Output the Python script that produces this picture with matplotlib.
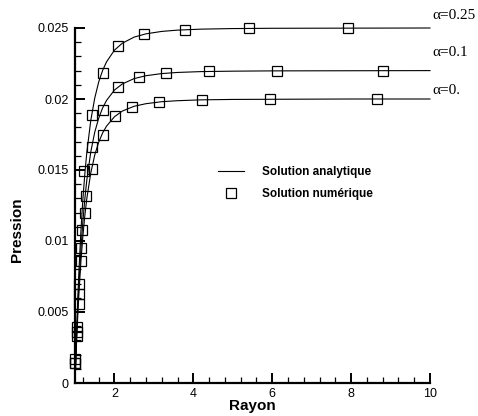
"""
Pression vs Rayon: analytic curves (lines) and numerical solution (open squares)
for three values of alpha.
"""

import matplotlib
matplotlib.use("Agg")
import matplotlib.pyplot as plt
from matplotlib.ticker import MultipleLocator

# Analytic solution
r_line = [1.0, 1.025, 1.05, 1.075, 1.1, 1.15, 1.2, 1.25, 1.3, 1.4, 1.5, 1.6, 1.7,
          1.8, 2.0, 2.2, 2.5, 2.8, 3.2, 3.6, 4.2, 5.0, 6.0, 8.0, 10.0]
p_line_a0 = [0, 0.00188, 0.00355, 0.00502, 0.00634, 0.00856, 0.01035, 0.01181, 0.01300,
             0.01479, 0.01605, 0.01695, 0.01761, 0.01809, 0.01875, 0.01915, 0.01949,
             0.01967, 0.01981, 0.01988, 0.01994, 0.01997, 0.01998, 0.02000, 0.02000]
p_line_a01 = [0, 0.00207, 0.00390, 0.00553, 0.00697, 0.00942, 0.01139, 0.01299, 0.01430,
              0.01627, 0.01766, 0.01864, 0.01937, 0.01990, 0.02063, 0.02106, 0.02144,
              0.02164, 0.02179, 0.02187, 0.02193, 0.02196, 0.02198, 0.02199, 0.02200]
p_line_a025 = [0, 0.00235, 0.00443, 0.00628, 0.00793, 0.01071, 0.01294, 0.01476, 0.01625,
               0.01849, 0.02006, 0.02119, 0.02201, 0.02262, 0.02344, 0.02393, 0.02436,
               0.02459, 0.02476, 0.02485, 0.02492, 0.02496, 0.02498, 0.02499, 0.02500]

# Numerical solution (markers)
r_num_a0 = [1.01, 1.05, 1.09, 1.16, 1.26, 1.44, 1.70, 2.02, 2.45, 3.14, 4.22, 5.95, 8.65]
p_num_a0 = [0.00141, 0.00329, 0.00559, 0.00859, 0.01197, 0.0151, 0.01749, 0.01878,
            0.01944, 0.01979, 0.01996, 0.0200, 0.0200]
r_num_a01 = [1.01, 1.05, 1.11, 1.16, 1.27, 1.44, 1.70, 2.09, 2.63, 3.31, 4.39, 6.12, 8.82]
p_num_a01 = [0.00141, 0.00359, 0.00625, 0.00953, 0.01315, 0.0166, 0.01925, 0.02082,
             0.02153, 0.02183, 0.02195, 0.0220, 0.0220]
r_num_a025 = [1.01, 1.05, 1.09, 1.17, 1.22, 1.44, 1.70, 2.10, 2.75, 3.78, 5.41, 7.93]
p_num_a025 = [0.00172, 0.00394, 0.00695, 0.01075, 0.01493, 0.01885, 0.02186, 0.02371,
              0.02458, 0.02489, 0.0250, 0.0250]

labels = ["\u03b1=0.25", "\u03b1=0.1", "\u03b1=0."]
label_y = [0.02588, 0.02325, 0.02057]

plt.rcParams["font.family"] = ["Liberation Sans", "DejaVu Sans"]

fig = plt.figure(figsize=(4.78, 4.16), dpi=100)
ax = fig.add_axes([75 / 478, 1 - 383 / 416, 355 / 478, 355 / 416])

mk = dict(marker="s", ms=6.5, mfc="none", mec="black", mew=0.9, ls="none")
for r, p in [(r_line, p_line_a0), (r_line, p_line_a01), (r_line, p_line_a025)]:
    ax.plot(r, p, color="black", lw=0.8, clip_on=False)
ax.plot(r_num_a0, p_num_a0, clip_on=False, **mk)
ax.plot(r_num_a01, p_num_a01, clip_on=False, **mk)
ax.plot(r_num_a025, p_num_a025, clip_on=False, **mk)

for lab, y in zip(labels, label_y):
    ax.text(10.05, y, lab, fontsize=11, family=["Liberation Serif", "DejaVu Serif"],
            ha="left", va="center", clip_on=False)

# legend
h_line, = ax.plot([], [], color="black", lw=0.8)
h_mark, = ax.plot([], [], **mk)
ax.legend([h_line, h_mark], ["Solution analytique", "Solution num\u00e9rique"],
          loc="upper left", bbox_to_anchor=(212 / 478, 1 - 160 / 416),
          bbox_transform=fig.transFigure, frameon=False, borderpad=0,
          handlelength=2.2, handletextpad=1.5, labelspacing=0.85,
          prop=dict(size=8.5, weight="bold"))

ax.set_xlim(1, 10)
ax.set_ylim(0, 0.025)
ax.xaxis.set_major_locator(MultipleLocator(2))
ax.xaxis.set_minor_locator(MultipleLocator(0.4))
ax.yaxis.set_major_locator(MultipleLocator(0.005))
ax.yaxis.set_minor_locator(MultipleLocator(0.001))
ax.set_yticks([0, 0.005, 0.01, 0.015, 0.02, 0.025])
ax.set_yticklabels(["0", "0.005", "0.01", "0.015", "0.02", "0.025"])

for s in ["top", "right"]:
    ax.spines[s].set_visible(False)
for s in ["left", "bottom"]:
    ax.spines[s].set_linewidth(1.6)

ax.tick_params(which="major", direction="in", length=7, width=1.4, labelsize=9)
ax.tick_params(which="minor", direction="in", length=4, width=0.9)
ax.tick_params(axis="y", pad=4.5)
ax.tick_params(axis="x", pad=3.5)

ax.set_xlabel("Rayon", fontsize=11, fontweight="bold")
ax.set_ylabel("Pression", fontsize=11, fontweight="bold")
ax.xaxis.set_label_coords(0.5, -0.045)
ax.yaxis.set_label_coords(-0.145, 0.432)

fig.savefig("out.png", dpi=100)
